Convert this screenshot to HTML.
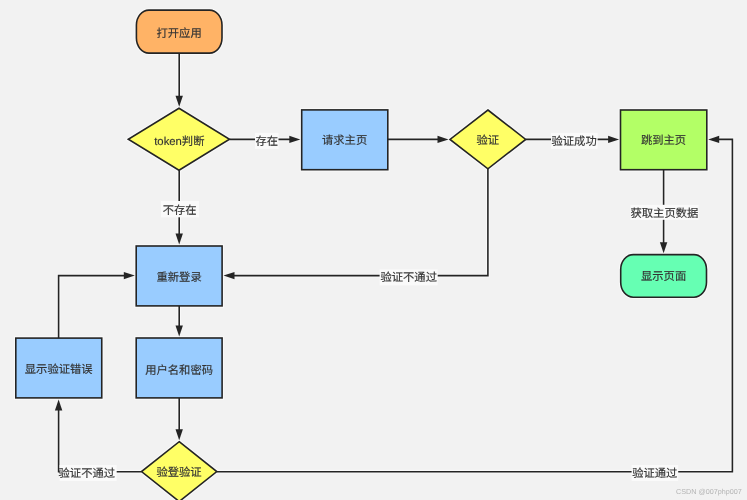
<!DOCTYPE html>
<html lang="zh-CN">
<head>
<meta charset="utf-8">
<style>
html,body{margin:0;padding:0;background:#f2f2f2;}
body{width:747px;height:500px;overflow:hidden;position:relative;font-family:"Liberation Sans",sans-serif;}
svg{position:absolute;left:0;top:0;filter:blur(0.3px);}
text{font-family:"Liberation Sans",sans-serif;}
</style>
</head>
<body>
<svg width="747" height="500" viewBox="0 0 747 500" text-rendering="geometricPrecision">
<g fill="none" stroke="#ffffff" stroke-opacity="0.55" stroke-width="3.8">
<path d="M179.20,53.10 L179.20,102.30"/>
<path d="M229.50,139.40 L295.80,139.40"/>
<path d="M387.80,139.40 L444.00,139.40"/>
<path d="M525.70,139.40 L614.60,139.40"/>
<path d="M663.60,169.70 L663.60,248.70"/>
<path d="M179.20,170.30 L179.20,240.10"/>
<path d="M487.90,168.80 L487.90,275.60 L228.00,275.60"/>
<path d="M179.20,305.90 L179.20,332.10"/>
<path d="M58.60,338.10 L58.60,275.60 L130.30,275.60"/>
<path d="M179.20,397.90 L179.20,435.70"/>
<path d="M141.50,471.70 L58.60,471.70 L58.60,403.90"/>
<path d="M216.80,471.70 L732.40,471.70 L732.40,139.40 L712.70,139.40"/>
<rect x="136.40" y="10.10" width="85.60" height="43.00" rx="12.5" ry="15" fill="none"/>
<path d="M179.00,108.30 L229.50,139.30 L179.00,170.30 L128.30,139.30 Z" fill="none"/>
<rect x="301.70" y="109.90" width="86.10" height="59.80" rx="0" ry="0" fill="none"/>
<path d="M487.90,110.00 L525.70,139.40 L487.90,168.80 L450.00,139.40 Z" fill="none"/>
<rect x="620.50" y="110.00" width="86.30" height="59.70" rx="0" ry="0" fill="none"/>
<rect x="620.70" y="254.60" width="85.80" height="42.60" rx="12.5" ry="15" fill="none"/>
<rect x="136.20" y="246.00" width="85.90" height="59.90" rx="0" ry="0" fill="none"/>
<rect x="136.20" y="338.00" width="85.90" height="59.90" rx="0" ry="0" fill="none"/>
<rect x="15.80" y="338.10" width="85.95" height="59.80" rx="0" ry="0" fill="none"/>
<path d="M179.20,441.70 L216.80,471.60 L179.20,501.50 L141.50,471.60 Z" fill="none"/>
</g>
<g fill="none" stroke="#242424" stroke-width="1.6" stroke-linejoin="miter">
<path d="M179.20,53.10 L179.20,102.30"/>
<path d="M229.50,139.40 L295.80,139.40"/>
<path d="M387.80,139.40 L444.00,139.40"/>
<path d="M525.70,139.40 L614.60,139.40"/>
<path d="M663.60,169.70 L663.60,248.70"/>
<path d="M179.20,170.30 L179.20,240.10"/>
<path d="M487.90,168.80 L487.90,275.60 L228.00,275.60"/>
<path d="M179.20,305.90 L179.20,332.10"/>
<path d="M58.60,338.10 L58.60,275.60 L130.30,275.60"/>
<path d="M179.20,397.90 L179.20,435.70"/>
<path d="M141.50,471.70 L58.60,471.70 L58.60,403.90"/>
<path d="M216.80,471.70 L732.40,471.70 L732.40,139.40 L712.70,139.40"/>
</g>
<g>
<path d="M179.20,106.80 L175.50,95.80 L182.90,95.80 Z" fill="#242424"/>
<path d="M300.30,139.40 L289.30,143.10 L289.30,135.70 Z" fill="#242424"/>
<path d="M448.50,139.40 L437.50,143.10 L437.50,135.70 Z" fill="#242424"/>
<path d="M619.10,139.40 L608.10,143.10 L608.10,135.70 Z" fill="#242424"/>
<path d="M663.60,253.20 L659.90,242.20 L667.30,242.20 Z" fill="#242424"/>
<path d="M179.20,244.60 L175.50,233.60 L182.90,233.60 Z" fill="#242424"/>
<path d="M223.50,275.60 L234.50,271.90 L234.50,279.30 Z" fill="#242424"/>
<path d="M179.20,336.60 L175.50,325.60 L182.90,325.60 Z" fill="#242424"/>
<path d="M134.80,275.60 L123.80,279.30 L123.80,271.90 Z" fill="#242424"/>
<path d="M179.20,440.20 L175.50,429.20 L182.90,429.20 Z" fill="#242424"/>
<path d="M58.60,399.40 L62.30,410.40 L54.90,410.40 Z" fill="#242424"/>
<path d="M708.20,139.40 L719.20,135.70 L719.20,143.10 Z" fill="#242424"/>
</g>
<g stroke="#242424" stroke-width="1.6">
<rect x="136.40" y="10.10" width="85.60" height="43.00" rx="12.5" ry="15" fill="#FFB366"/>
<path d="M179.00,108.30 L229.50,139.30 L179.00,170.30 L128.30,139.30 Z" fill="#FFFF66"/>
<rect x="301.70" y="109.90" width="86.10" height="59.80" rx="0" ry="0" fill="#99CCFF"/>
<path d="M487.90,110.00 L525.70,139.40 L487.90,168.80 L450.00,139.40 Z" fill="#FFFF66"/>
<rect x="620.50" y="110.00" width="86.30" height="59.70" rx="0" ry="0" fill="#B3FF66"/>
<rect x="620.70" y="254.60" width="85.80" height="42.60" rx="12.5" ry="15" fill="#66FFB3"/>
<rect x="136.20" y="246.00" width="85.90" height="59.90" rx="0" ry="0" fill="#99CCFF"/>
<rect x="136.20" y="338.00" width="85.90" height="59.90" rx="0" ry="0" fill="#99CCFF"/>
<rect x="15.80" y="338.10" width="85.95" height="59.80" rx="0" ry="0" fill="#99CCFF"/>
<path d="M179.20,441.70 L216.80,471.60 L179.20,501.50 L141.50,471.60 Z" fill="#FFFF66"/>
</g>
<g fill="#fafafa">
<rect x="255.00" y="132.90" width="23.50" height="16.00"/>
<rect x="161.00" y="201.00" width="38.00" height="16.30"/>
<rect x="551.00" y="132.90" width="46.60" height="16.00"/>
<rect x="630.50" y="204.80" width="68.00" height="15.00"/>
<rect x="379.60" y="269.30" width="58.10" height="16.00"/>
<rect x="59.60" y="465.00" width="57.10" height="16.00"/>
<rect x="631.60" y="465.00" width="46.60" height="16.00"/>
</g>
<g text-anchor="middle" dominant-baseline="central" font-size="11.3" fill="#333333" stroke="#333333" stroke-width="0.15">
<text x="179.10" y="33.85">打开应用</text>
<text x="179.35" y="141.90">token判断</text>
<text x="344.60" y="141.10">请求主页</text>
<text x="487.80" y="141.30">验证</text>
<text x="663.50" y="141.10">跳到主页</text>
<text x="663.60" y="277.00">显示页面</text>
<text x="179.10" y="277.60">重新登录</text>
<text x="179.10" y="370.50">用户名和密码</text>
<text x="58.70" y="370.00">显示验证错误</text>
<text x="179.00" y="473.00">验登验证</text>
<text x="266.70" y="141.85">存在</text>
<text x="179.60" y="210.90">不存在</text>
<text x="574.10" y="141.85">验证成功</text>
<text x="664.40" y="214.00">获取主页数据</text>
<text x="408.70" y="278.30">验证不通过</text>
<text x="86.80" y="473.90">验证不通过</text>
<text x="654.80" y="474.00">验证通过</text>
</g>
<text x="708.9" y="494.3" text-anchor="middle" font-size="7.2" fill="#b4b4b4">CSDN @007php007</text>
</svg>
</body>
</html>
